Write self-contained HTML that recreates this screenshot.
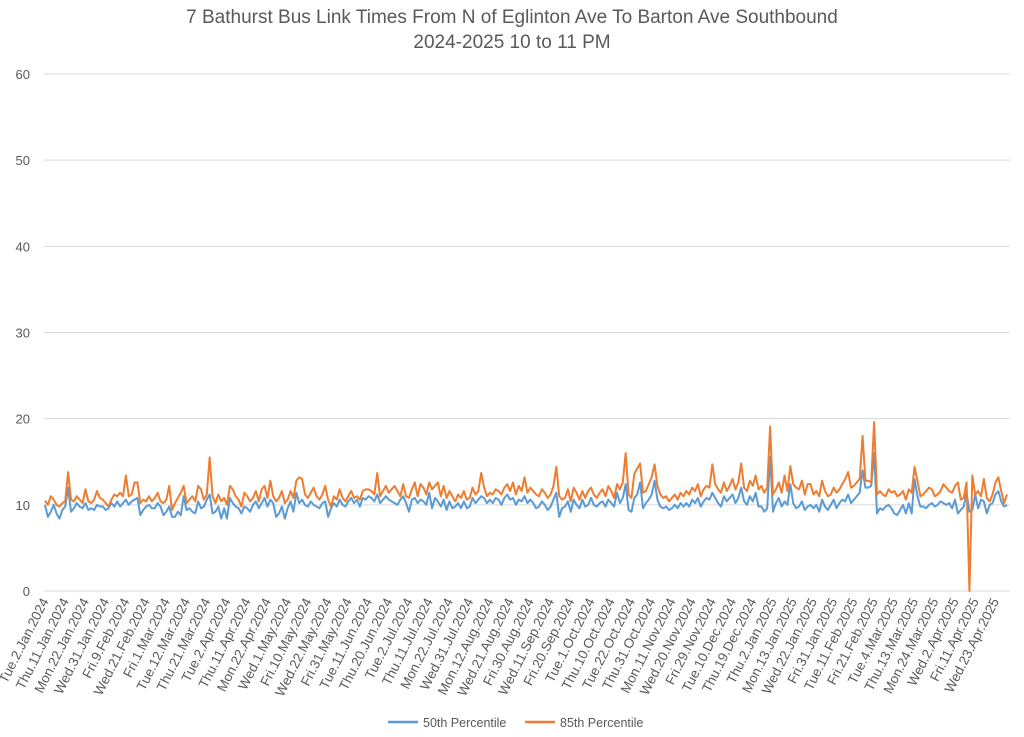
<!DOCTYPE html>
<html><head><meta charset="utf-8"><style>
body{margin:0;background:#fff;font-family:"Liberation Sans",sans-serif}
</style></head><body>
<svg id="chart" width="1024" height="737" xmlns="http://www.w3.org/2000/svg" style="display:block;font-family:'Liberation Sans',sans-serif">
<rect width="1024" height="737" fill="#fff"/>
<text x="512" y="23" text-anchor="middle" font-size="19" fill="#595959">7 Bathurst Bus Link Times From N of Eglinton Ave To Barton Ave Southbound</text>
<text x="512" y="48" text-anchor="middle" font-size="19" fill="#595959">2024-2025 10 to 11 PM</text>
<g id="grid"></g><g id="ylab"></g><g id="xlab"></g><g id="series"></g>
<g>
<line x1="388" y1="722" x2="418" y2="722" stroke="#5b9bd5" stroke-width="2.5"/>
<text x="423" y="727" font-size="12.5" fill="#595959">50th Percentile</text>
<line x1="525" y1="722" x2="555" y2="722" stroke="#ed7d31" stroke-width="2.5"/>
<text x="560" y="727" font-size="12.5" fill="#595959">85th Percentile</text>
</g>
</svg>
<script>
const yTicks=[0,10,20,30,40,50,60];
const xLabels=["Tue.2.Jan.2024","Thu.11.Jan.2024","Mon.22.Jan.2024","Wed.31.Jan.2024","Fri.9.Feb.2024","Wed.21.Feb.2024","Fri.1.Mar.2024","Tue.12.Mar.2024","Thu.21.Mar.2024","Tue.2.Apr.2024","Thu.11.Apr.2024","Mon.22.Apr.2024","Wed.1.May.2024","Fri.10.May.2024","Wed.22.May.2024","Fri.31.May.2024","Tue.11.Jun.2024","Thu.20.Jun.2024","Tue.2.Jul.2024","Thu.11.Jul.2024","Mon.22.Jul.2024","Wed.31.Jul.2024","Mon.12.Aug.2024","Wed.21.Aug.2024","Fri.30.Aug.2024","Wed.11.Sep.2024","Fri.20.Sep.2024","Tue.1.Oct.2024","Thu.10.Oct.2024","Tue.22.Oct.2024","Thu.31.Oct.2024","Mon.11.Nov.2024","Wed.20.Nov.2024","Fri.29.Nov.2024","Tue.10.Dec.2024","Thu.19.Dec.2024","Thu.2.Jan.2025","Mon.13.Jan.2025","Wed.22.Jan.2025","Fri.31.Jan.2025","Tue.11.Feb.2025","Fri.21.Feb.2025","Tue.4.Mar.2025","Thu.13.Mar.2025","Mon.24.Mar.2025","Wed.2.Apr.2025","Fri.11.Apr.2025","Wed.23.Apr.2025"];
const labelEvery=7;
const p85=[10.5,10.0,11.0,10.6,10.0,9.8,10.2,10.4,13.8,10.6,10.4,11.0,10.6,10.2,11.8,10.4,10.2,10.6,11.6,10.8,
10.6,10.2,9.8,10.6,11.2,11.0,11.4,11.0,13.4,11.0,11.2,12.6,12.6,10.2,10.6,10.4,11.0,10.4,10.8,11.4,
10.4,10.2,10.6,12.2,9.4,10.2,10.8,11.4,12.2,10.2,10.6,11.0,10.4,12.2,11.8,10.6,11.2,15.5,11.0,10.2,
11.2,10.4,10.8,10.0,12.2,11.8,11.0,10.6,9.8,11.4,11.0,10.4,10.8,11.6,10.4,11.8,12.2,10.8,12.8,11.0,
10.4,10.8,11.6,10.2,10.6,11.6,10.8,12.8,13.2,13.0,11.2,10.8,11.4,12.0,11.0,10.6,11.2,12.2,10.6,9.8,
11.0,10.6,11.8,10.8,10.4,11.0,11.6,10.8,11.0,10.6,11.6,11.8,11.8,11.6,11.2,13.7,11.0,11.6,12.2,11.4,
11.8,12.2,11.6,11.0,12.4,11.0,10.8,11.8,12.6,11.0,12.4,12.0,11.2,12.6,11.8,12.2,12.6,11.0,12.2,10.8,
11.6,11.0,10.4,11.2,10.8,11.6,10.6,10.8,12.0,11.2,11.6,13.7,12.0,11.0,11.4,11.2,11.8,11.6,11.2,12.0,
12.4,11.6,12.6,11.2,12.2,11.6,13.2,11.4,12.0,11.6,11.2,11.0,11.8,11.4,10.8,11.2,12.2,14.4,11.0,10.6,
10.8,11.8,10.4,12.0,11.4,10.6,11.6,10.8,11.6,12.0,11.2,10.8,11.4,11.8,11.0,12.2,11.6,10.8,12.4,11.8,
12.6,16.0,11.2,10.8,13.6,14.2,14.8,11.4,11.6,12.4,13.2,14.7,12.2,11.2,10.8,11.0,10.4,10.8,11.2,10.6,
11.4,11.0,11.6,11.2,12.0,11.6,12.4,11.0,11.8,12.2,12.0,14.7,12.4,11.8,11.4,12.6,11.6,12.2,13.0,11.8,
12.6,14.8,12.0,11.6,12.8,12.2,13.4,11.8,12.2,11.4,12.0,19.1,11.2,11.8,12.6,11.4,13.4,11.6,14.5,12.4,
12.0,11.8,12.8,11.2,12.4,12.4,11.2,11.6,11.0,12.8,11.6,11.0,11.2,12.0,11.4,11.8,12.4,13.0,13.8,12.0,
12.2,12.6,13.0,18.0,12.8,12.8,12.6,19.6,11.2,11.6,11.2,11.0,11.8,11.4,11.6,11.0,11.2,11.6,10.6,11.8,
11.4,14.4,12.8,11.0,11.2,11.6,12.0,11.8,11.0,11.2,11.6,12.4,12.0,11.6,11.4,12.2,12.6,10.6,10.8,12.6,
0.0,13.4,11.2,11.6,11.0,13.0,10.8,10.4,11.2,12.6,13.2,11.6,10.2,11.2];
const p50=[10.0,8.6,9.2,10.0,9.0,8.4,9.4,9.8,12.0,9.2,9.6,10.2,9.8,9.6,10.2,9.4,9.6,9.4,10.0,9.8,
9.8,9.4,9.6,10.2,9.8,10.4,9.8,10.2,10.6,10.0,10.4,10.6,10.8,8.8,9.4,9.8,10.0,9.6,9.6,10.2,
9.8,8.8,9.2,9.8,8.6,8.6,9.2,8.8,11.0,9.4,9.6,9.2,9.0,10.4,9.6,9.8,10.6,11.2,9.0,9.2,
9.8,8.4,9.6,8.4,10.8,10.2,9.8,9.6,9.0,9.8,9.6,9.2,10.0,10.4,9.6,10.2,10.8,9.8,10.6,10.2,
8.6,9.0,9.8,8.4,9.6,10.4,9.2,11.4,10.2,10.6,10.0,9.8,10.4,10.0,9.8,9.6,10.2,10.4,8.6,9.6,
10.2,9.8,10.6,10.0,9.8,10.4,10.8,10.2,10.6,9.8,10.8,10.6,11.0,10.8,10.4,11.2,10.2,10.6,11.0,10.6,
10.4,10.2,10.0,10.6,11.0,10.2,9.2,10.6,10.8,10.2,10.6,10.4,10.0,11.4,9.6,10.8,10.4,9.8,10.6,9.4,
10.4,9.6,9.8,10.2,9.6,10.4,9.6,9.8,10.8,10.2,10.6,11.0,10.8,10.2,10.6,10.2,10.8,10.6,10.0,10.8,
11.2,10.6,10.8,10.0,10.6,10.4,11.0,10.2,10.6,10.2,9.6,9.8,10.4,10.0,9.4,9.8,10.6,11.4,8.6,9.6,
9.8,10.4,9.2,10.6,10.0,9.6,10.6,9.8,10.0,10.8,10.0,9.8,10.2,10.4,9.8,10.6,10.2,9.8,11.4,10.2,
10.8,12.4,9.4,9.2,10.8,11.2,12.6,9.6,10.2,10.6,11.2,12.8,10.6,9.8,9.6,9.8,9.4,9.6,10.0,9.6,
10.2,9.8,10.2,9.8,10.6,10.2,10.8,9.8,10.4,10.8,10.6,11.4,10.8,10.2,9.8,11.0,10.4,10.8,11.2,10.2,
10.8,12.0,10.4,10.0,11.0,10.4,11.4,9.8,9.8,9.2,9.6,15.6,9.2,10.2,10.8,9.8,10.4,10.0,12.4,10.2,
9.6,9.8,10.4,9.4,9.8,10.0,9.6,10.0,9.2,10.6,9.8,9.4,10.0,10.6,9.6,10.2,10.6,10.4,11.2,10.2,
10.6,11.0,11.4,14.0,12.0,12.0,12.2,16.0,9.0,9.6,9.4,9.8,10.0,9.6,9.0,8.8,9.4,10.0,9.0,10.2,
9.0,13.0,11.0,9.8,9.8,9.6,10.0,10.2,9.8,10.0,10.4,10.2,10.0,10.2,9.6,10.6,9.0,9.4,9.8,11.4,
9.2,9.4,11.2,9.6,10.6,10.4,9.0,10.0,10.2,11.2,11.6,10.4,9.8,10.0];

const NS="http://www.w3.org/2000/svg";
const X0=45,X1=1007,Y0=591,Y60=74,GL=44,GR=1010;
const n=Math.max(p85.length,p50.length);
function xs(i){return X0+i*(X1-X0)/(n-1);}
function ys(v){return Y0-(v/60)*(Y0-Y60);}
function mk(t,a,p){const e=document.createElementNS(NS,t);for(const k in a)e.setAttribute(k,a[k]);p.appendChild(e);return e;}
const grid=document.getElementById('grid'),ylab=document.getElementById('ylab'),xlab=document.getElementById('xlab'),ser=document.getElementById('series');
yTicks.forEach(v=>{
  const l=mk('line',{x1:GL,x2:GR,y1:ys(v),y2:ys(v),stroke:'#d9d9d9','stroke-width':1},grid);
  
  
  const t=mk('text',{x:30,y:ys(v)+5,'text-anchor':'end','font-size':13,fill:'#595959'},ylab);
  t.textContent=v;
  
  
});
xLabels.forEach((s,k)=>{
  const x=xs(k*labelEvery)+4,y=601;
  const t=mk('text',{x:x,y:y,'text-anchor':'end','font-size':13.5,fill:'#595959',transform:'rotate(-63 '+x+' '+y+')'},xlab);
  t.textContent=s;
  
  
});
function line(arr,color,name){
  const d=arr.map((v,i)=>(i?'L':'M')+xs(i).toFixed(2)+' '+ys(v).toFixed(2)).join(' ');
  const p=mk('path',{d:d,fill:'none',stroke:color,'stroke-width':2,'stroke-linejoin':'round'},ser);
  
  
}
line(p50,'#5b9bd5','series-50th-percentile');
line(p85,'#ed7d31','series-85th-percentile');
</script>
</body></html>
